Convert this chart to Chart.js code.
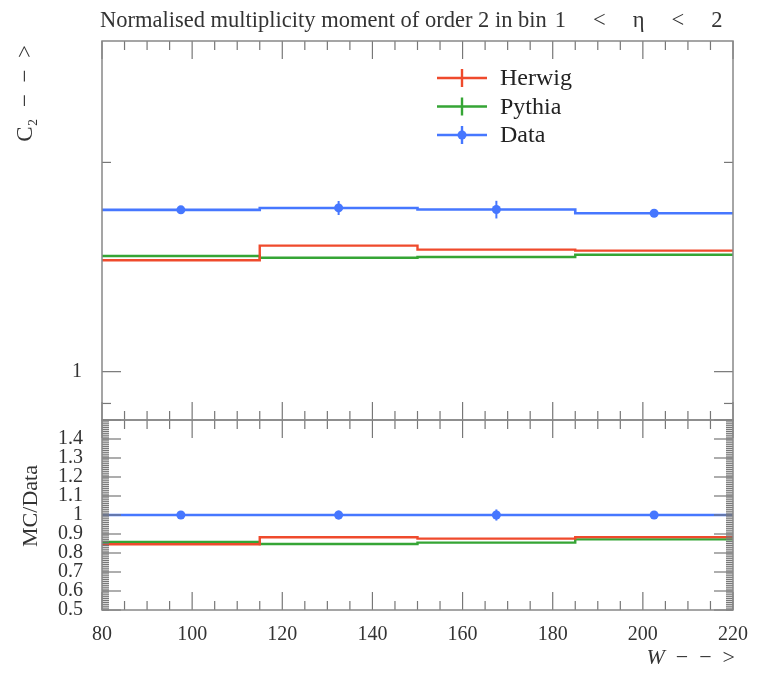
<!DOCTYPE html>
<html>
<head>
<meta charset="utf-8">
<script src="https://cdn.jsdelivr.net/npm/chart.js@4"></script>
<style>
  body { margin: 0; background: #fff; }
  #wrap { position: relative; width: 772px; height: 675px; }
  canvas { position: absolute; left: 0; top: 0; }
</style>
</head>
<body>
<div id="wrap">
  <canvas id="mainChart" width="772" height="675"></canvas>
  <canvas id="ratioChart" width="772" height="675"></canvas>
</div>
<script>
// bins in W
const binEdges = [80, 115, 150, 185, 220];
const binCentres = [97.5, 132.5, 167.5, 202.5];

// C2 values
const herwig = [1.446, 1.518, 1.498, 1.493];
const pythia = [1.467, 1.458, 1.462, 1.473];
const dataVals = [1.709, 1.720, 1.711, 1.690];
const dataErr = [0.012, 0.040, 0.050, 0.012];

// ticks
const xTicks = [80, 100, 120, 140, 160, 180, 200, 220];
const mainYMajor = [1];
const mainYMinor = [0.9, 2, 3];
const ratioYLabels = [0.5, 0.6, 0.7, 0.8, 0.9, 1, 1.1, 1.2, 1.3, 1.4];

const RED = '#ef4a2c';
const GREEN = '#35a535';
const BLUE = '#4677ff';
const FONT = '"Liberation Serif", "DejaVu Serif", serif';

// histogram outline from edges + values
function histo(vals) {
  const pts = [];
  vals.forEach((v, i) => {
    pts.push({ x: binEdges[i], y: v });
    pts.push({ x: binEdges[i + 1], y: v });
  });
  return pts;
}
function markers(vals) {
  return vals.map((v, i) => ({ x: binCentres[i], y: v }));
}

const herwigRatio = herwig.map((v, i) => v / dataVals[i]);
const pythiaRatio = pythia.map((v, i) => v / dataVals[i]);
const dataRatio = dataVals.map(() => 1);
const dataRatioErr = dataErr.map((e, i) => e / dataVals[i]);

function seg(ctx, x1, y1, x2, y2) {
  ctx.beginPath(); ctx.moveTo(x1, y1); ctx.lineTo(x2, y2); ctx.stroke();
}

// frame, inward ticks, error bars
const framePlugin = {
  id: 'frame',
  afterDatasetsDraw(chart, args, opts) {
    const { ctx, chartArea: a, scales } = chart;
    ctx.save();
    // error bars
    chart.data.datasets.forEach(ds => {
      if (!ds.errors) return;
      ctx.strokeStyle = ds.borderColor || ds.backgroundColor;
      ctx.lineWidth = 2;
      ds.data.forEach((p, i) => {
        const x = scales.x.getPixelForValue(p.x);
        seg(ctx, x, scales.y.getPixelForValue(p.y - ds.errors[i]),
                 x, scales.y.getPixelForValue(p.y + ds.errors[i]));
      });
    });
    ctx.strokeStyle = '#777';
    ctx.lineWidth = 1.2;
    for (let v = 80; v <= 220; v += 5) {
      const x = scales.x.getPixelForValue(v);
      const len = v % 20 === 0 ? 18 : 9;
      seg(ctx, x, a.top, x, a.top + len);
      seg(ctx, x, a.bottom, x, a.bottom - len);
    }
    opts.yMajor.forEach(v => {
      const y = scales.y.getPixelForValue(v);
      if (y < a.top || y > a.bottom) return;
      seg(ctx, a.left, y, a.left + 19, y);
      seg(ctx, a.right, y, a.right - 19, y);
    });
    opts.yMinor.forEach(v => {
      const y = scales.y.getPixelForValue(v);
      if (y < a.top || y > a.bottom) return;
      seg(ctx, a.left, y, a.left + opts.minorLen, y);
      seg(ctx, a.right, y, a.right - opts.minorLen, y);
    });
    ctx.strokeStyle = '#888';
    ctx.lineWidth = 1.5;
    ctx.strokeRect(a.left, a.top, a.right - a.left, a.bottom - a.top);
    ctx.restore();
  },
  afterDraw(chart, args, opts) {
    if (opts.draw) opts.draw(chart.ctx, chart);
  }
};
Chart.register(framePlugin);

function drawRotated(ctx, text, x, y, align, font) {
  ctx.save();
  ctx.translate(x, y);
  ctx.rotate(-Math.PI / 2);
  ctx.font = font;
  ctx.textAlign = align;
  ctx.textBaseline = 'alphabetic';
  ctx.fillStyle = '#333';
  ctx.fillText(text, 0, 0);
  ctx.restore();
}

function drawMainExtras(ctx, chart) {
  ctx.save();
  ctx.fillStyle = '#333';
  ctx.font = '22.5px ' + FONT;
  ctx.textAlign = 'left';
  ctx.textBaseline = 'alphabetic';
  // title, with math-style spacing around the eta range
  let x = 100;
  const prefix = 'Normalised multiplicity moment of order 2 in bin';
  ctx.fillText(prefix, x, 27);
  x += ctx.measureText(prefix).width + 8;
  ['1', '<', '\u03b7', '<', '2'].forEach(tok => {
    ctx.fillText(tok, x, 27);
    x += ctx.measureText(tok).width + 27;
  });

  // y title
  drawRotated(ctx, 'C\u2082  \u2212  \u2212  >', 32, 45, 'right', '23px ' + FONT);

  // legend
  const rows = [
    { label: 'Herwig', color: RED, dot: false },
    { label: 'Pythia', color: GREEN, dot: false },
    { label: 'Data', color: BLUE, dot: true }
  ];
  rows.forEach((r, i) => {
    const y = 78 + i * 28.5;
    ctx.strokeStyle = r.color;
    ctx.lineWidth = 2.4;
    seg(ctx, 437, y, 487, y);
    seg(ctx, 462, y - 9, 462, y + 9);
    if (r.dot) {
      ctx.fillStyle = r.color;
      ctx.beginPath(); ctx.arc(462, y, 4.5, 0, Math.PI * 2); ctx.fill();
    }
    ctx.fillStyle = '#222';
    ctx.font = '24px ' + FONT;
    ctx.textBaseline = 'middle';
    ctx.fillText(r.label, 500, y + 1);
  });
  ctx.restore();
}

function drawRatioExtras(ctx, chart) {
  drawRotated(ctx, 'MC/Data', 37, 506, 'center', '22px ' + FONT);
  ctx.save();
  ctx.fillStyle = '#333';
  ctx.textAlign = 'right';
  ctx.textBaseline = 'alphabetic';
  ctx.font = '22px ' + FONT;
  const arrow = '  \u2212  \u2212  >';
  ctx.fillText(arrow, 735, 664);
  const w = ctx.measureText(arrow).width;
  ctx.font = 'italic 22px ' + FONT;
  ctx.fillText('W', 735 - w, 664);
  ctx.restore();
}

const common = {
  responsive: false,
  animation: false,
  events: [],
  plugins: { legend: { display: false }, tooltip: { enabled: false } },
  elements: { point: { radius: 0 }, line: { tension: 0 } }
};

new Chart(document.getElementById('mainChart').getContext('2d'), {
  type: 'line',
  data: {
    datasets: [
      { label: 'Data', data: markers(dataVals), errors: dataErr, showLine: false,
        pointRadius: 4.5, backgroundColor: BLUE, borderColor: BLUE, pointBorderWidth: 0 },
      { label: 'Data', data: histo(dataVals), borderColor: BLUE, borderWidth: 2.6 },
      { label: 'Herwig', data: histo(herwig), borderColor: RED, borderWidth: 2.4 },
      { label: 'Pythia', data: histo(pythia), borderColor: GREEN, borderWidth: 2.4 }
    ]
  },
  options: {
    ...common,
    layout: { padding: { left: 0, top: 41, right: 39, bottom: 255 } },
    scales: {
      x: { type: 'linear', min: 80, max: 220, display: false },
      y: {
        type: 'logarithmic', min: 0.852, max: 2.99,
        grid: { display: false }, border: { display: false },
        afterFit: s => { s.width = 102; },
        ticks: {
          autoSkip: false, padding: 12, color: '#333',
          font: { family: FONT, size: 20 },
          callback: v => (mainYMajor.includes(v) ? String(v) : '')
        }
      }
    },
    plugins: {
      ...common.plugins,
      frame: { yMajor: mainYMajor, yMinor: mainYMinor, minorLen: 9, draw: drawMainExtras }
    }
  }
});

const ratioMinor = [];
for (let i = 50; i <= 150; i++) ratioMinor.push(i / 100);

new Chart(document.getElementById('ratioChart').getContext('2d'), {
  type: 'line',
  data: {
    datasets: [
      { label: 'Data', data: markers(dataRatio), errors: dataRatioErr, showLine: false,
        pointRadius: 4.5, backgroundColor: BLUE, borderColor: BLUE, pointBorderWidth: 0 },
      { label: 'Data', data: histo(dataRatio), borderColor: BLUE, borderWidth: 2.6 },
      { label: 'Herwig', data: histo(herwigRatio), borderColor: RED, borderWidth: 2.4 },
      { label: 'Pythia', data: histo(pythiaRatio), borderColor: GREEN, borderWidth: 2.4 }
    ]
  },
  options: {
    ...common,
    layout: { padding: { left: 0, top: 420, right: 39, bottom: 0 } },
    scales: {
      x: {
        type: 'linear', min: 80, max: 220,
        grid: { display: false }, border: { display: false },
        afterFit: s => { s.height = 65; },
        afterBuildTicks: s => { s.ticks = xTicks.map(v => ({ value: v })); },
        ticks: { autoSkip: false, maxRotation: 0, padding: 5, color: '#333',
                 font: { family: FONT, size: 20 } }
      },
      y: {
        type: 'linear', min: 0.5, max: 1.5,
        grid: { display: false }, border: { display: false },
        afterFit: s => { s.width = 102; },
        afterBuildTicks: s => { s.ticks = ratioYLabels.map(v => ({ value: v })); },
        ticks: { autoSkip: false, padding: 11, color: '#333',
                 font: { family: FONT, size: 20 },
                 callback: v => String(v) }
      }
    },
    plugins: {
      ...common.plugins,
      frame: { yMajor: ratioYLabels.concat([1.5]), yMinor: ratioMinor, minorLen: 7, draw: drawRatioExtras }
    }
  }
});
</script>
</body>
</html>
